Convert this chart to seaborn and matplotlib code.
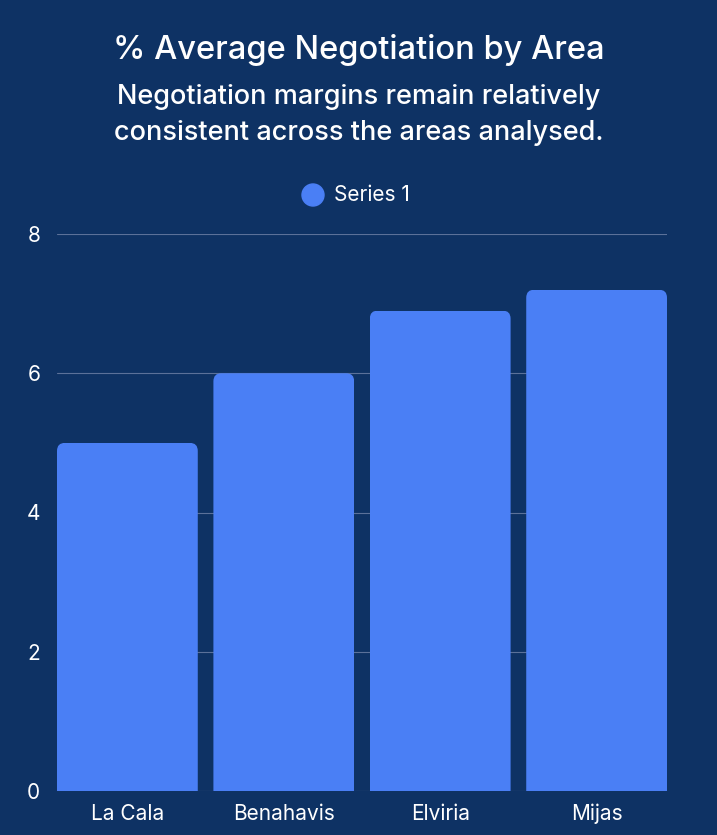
import seaborn as sns
import matplotlib.pyplot as plt
import pandas as pd
from matplotlib.patches import FancyBboxPatch, Ellipse

# Data
areas = ['La Cala', 'Benahavis', 'Elviria', 'Mijas']
negotiation = [5.0, 6.0, 6.9, 7.2]
y_ticks = [0, 2, 4, 6, 8]

df = pd.DataFrame({'Area': areas, 'Negotiation': negotiation})

bg = '#0e3264'
bar_color = '#4a7ff5'
grid_color = '#5b7199'

sns.set_style("dark")
plt.rcParams['font.family'] = ['Inter', 'DejaVu Sans']

fig = plt.figure(figsize=(7.17, 8.35), dpi=100, facecolor=bg)
ax = fig.add_axes([57 / 717, 44 / 835, 610 / 717, 557 / 835])
ax.set_facecolor(bg)

sns.barplot(data=df, x='Area', y='Negotiation', color=bar_color,
            width=0.9, saturation=1, ax=ax, zorder=3)

# rounded top corners
rx = 8 / 156.5
aspect = 156.5 / 69.6
for bar in ax.patches:
    x, w, h = bar.get_x(), bar.get_width(), bar.get_height()
    clip = FancyBboxPatch((x, -1), w, h + 1,
                          boxstyle=f"round,pad=0,rounding_size={rx}",
                          mutation_aspect=aspect, transform=ax.transData,
                          facecolor='none', edgecolor='none')
    ax.add_patch(clip)
    bar.set_clip_path(clip)
    bar.set_edgecolor('none')

ax.set_xlim(-0.45, 3.45)
ax.set_ylim(0, 8)
ax.set_yticks(y_ticks)
ax.yaxis.grid(True, color=grid_color, linewidth=0.8, zorder=0)
ax.xaxis.grid(False)
for s in ax.spines.values():
    s.set_visible(False)

ax.tick_params(axis='both', length=0, colors='white', labelsize=15)
ax.tick_params(axis='y', pad=12)
ax.tick_params(axis='x', pad=9)
ax.set_xlabel('')
ax.set_ylabel('')

fig.text(0.5, 1 - 50 / 835, '% Average Negotiation by Area', ha='center', va='center',
         color='white', fontsize=23.5, fontweight='medium')
fig.text(0.5, 1 - 115 / 835,
         'Negotiation margins remain relatively\nconsistent across the areas analysed.',
         ha='center', va='center', color='white', fontsize=19.5,
         fontweight='medium', linespacing=1.45)

# legend
fig.patches.append(Ellipse((313 / 717, 1 - 195 / 835), 22 / 717, 22 / 835,
                           transform=fig.transFigure, color=bar_color, figure=fig))
fig.text(334 / 717, 1 - 195 / 835, 'Series 1', ha='left', va='center',
         color='white', fontsize=15)

fig.savefig('out.png', dpi=100, facecolor=bg)
plt.close(fig)
